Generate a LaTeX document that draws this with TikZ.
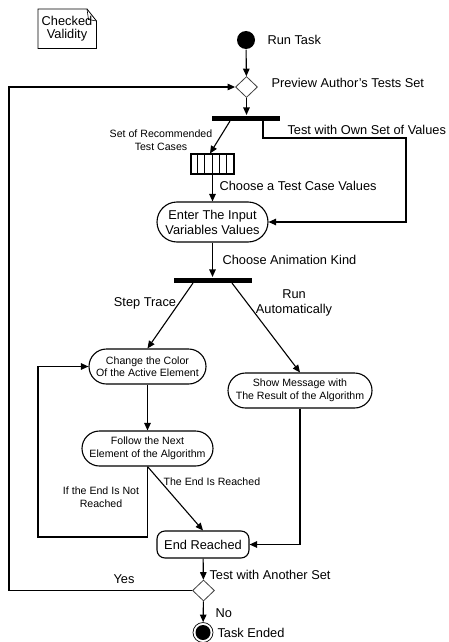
\documentclass[tikz,border=0pt]{standalone}
\usepackage{fontspec}
\setmainfont{Liberation Sans}
\usetikzlibrary{arrows.meta,shapes.geometric}
\begin{document}
\begin{tikzpicture}[x=1pt,y=-1pt,
  line width=1.1pt,
  flow/.style={draw, -{Triangle[length=7.5pt,width=6.5pt]}},
  big/.style={font=\fontsize{12.8}{15}\selectfont},
  small/.style={font=\fontsize{10.6}{12.5}\selectfont},
  activity/.style={draw, rectangle, rounded corners=17.5pt, inner sep=0pt,
    minimum height=35pt, align=center, small},
  decision/.style={draw=black!75, line width=0.8pt, diamond, inner sep=0pt,
    minimum width=22pt, minimum height=21pt},
  syncbar/.style={fill=black, rectangle, inner sep=0pt, minimum height=5pt},
  lbl/.style={inner sep=0pt, big},
]
\useasboundingbox (0,0) rectangle (449,642);

% note in the corner
\draw[line width=0.8pt] (38,9) -- (87,9) -- (96.5,21) -- (96.5,48.5) -- (38,48.5) -- cycle;
\draw[line width=0.6pt] (87,9) -- (88.5,19.5) -- (96.5,21);
\node[align=center, inner sep=0pt, big] (note) at (67,29) {Checked\\[-2pt]Validity};

% nodes
\node[circle, fill=black, minimum size=18pt, inner sep=0pt] (start) at (246,40) {};
\node[lbl, anchor=west] (runtask) at (267,40) {Run Task};

\node[decision] (d1) at (246.5,87) {};
\node[lbl, anchor=west] (preview) at (271,83) {Preview Author's Tests Set};

\node[syncbar, minimum width=68pt] (bar1) at (246,118) {};
\node[lbl, anchor=west] (ownset) at (287,130) {Test with Own Set of Values};

\node[draw, rectangle, inner sep=0pt, minimum width=43pt, minimum height=20pt] (obj) at (212.5,164) {};
\foreach \i in {1,...,5}
  \draw[line width=0.7pt] ([xshift=7.17*\i pt]obj.north west) -- ([xshift=7.17*\i pt]obj.south west);
\node[small, align=center, inner sep=0pt] (reccases) at (161,140) {Set of Recommended\\Test Cases};
\node[lbl, anchor=west] (choosetc) at (219,186) {Choose a Test Case Values};

\node[draw, rectangle, rounded corners=20pt, inner sep=0pt, minimum width=111pt,
  minimum height=40pt, align=center, big] (enter) at (212.5,222) {Enter The Input\\Variables Values};
\node[lbl, anchor=west] (anim) at (222,260) {Choose Animation Kind};

\node[syncbar, minimum width=78pt] (bar2) at (213,280) {};
\node[lbl] (steptrace) at (145,303) {Step Trace};
\node[big, align=center, inner sep=0pt] (runauto) at (294,302.5) {Run\\Automatically};

\node[activity, minimum width=117pt] (change) at (147.5,366.5) {Change the Color\\Of the Active Element};
\node[activity, minimum width=144pt] (show) at (300,390.5) {Show Message with\\The Result of the Algorithm};
\node[activity, minimum width=131pt] (follow) at (147.5,448.5) {Follow the Next\\Element of the Algorithm};

\node[small, align=center, inner sep=0pt] (notreached) at (101,497) {If the End Is Not\\Reached};
\node[small, anchor=west, inner sep=0pt] (reached) at (163,482) {The End Is Reached};

\node[draw, rectangle, rounded corners=8pt, inner sep=0pt, minimum width=92pt,
  minimum height=27pt, big] (endr) at (203,544.5) {End Reached};

\node[decision] (d2) at (203.5,590.5) {};
\node[lbl, anchor=west] (another) at (209,575) {Test with Another Set};
\node[lbl] (yes) at (124,579) {Yes};
\node[lbl, anchor=west] (no) at (215,613) {No};

\node[circle, draw, line width=0.7pt, minimum size=20pt, inner sep=0pt] (final) at (203,632.5) {};
\fill (final.center) circle (7.5pt);
\node[lbl, anchor=west] (ended) at (217,633) {Task Ended};

% connectors
\coordinate (ownbend) at (406,138);
\coordinate (loopcorner) at (38,537);
\coordinate (yescorner) at (9,590.5);

\draw[flow] (start) -- (d1);
\draw[flow] (d1) -- (bar1.north -| d1);
\draw[flow] ([xshift=-16pt]bar1.south) -- ([xshift=-2.5pt]obj.north);
\draw[flow] ([xshift=17pt]bar1.south) |- (ownbend) |- (enter.east);
\draw[flow] (obj) -- (enter);
\draw[flow] (enter) -- (bar2.north -| enter);
\draw[flow] ([xshift=-20pt]bar2.south) -- (change.north);
\draw[flow] ([xshift=19pt]bar2.south) -- (show.north);
\draw[flow] (change) -- (follow);
\draw[flow] (follow.south) |- (loopcorner) |- (change.west);
\draw[flow] (follow.south) -- (endr.north);
\draw[flow] (show.south) |- (endr.east);
\draw[flow] (endr) -- (d2);
\draw[flow] (d2) -- (final);
\draw[flow] (d2.west) -- (yescorner) |- (d1.west);
\end{tikzpicture}
\end{document}
